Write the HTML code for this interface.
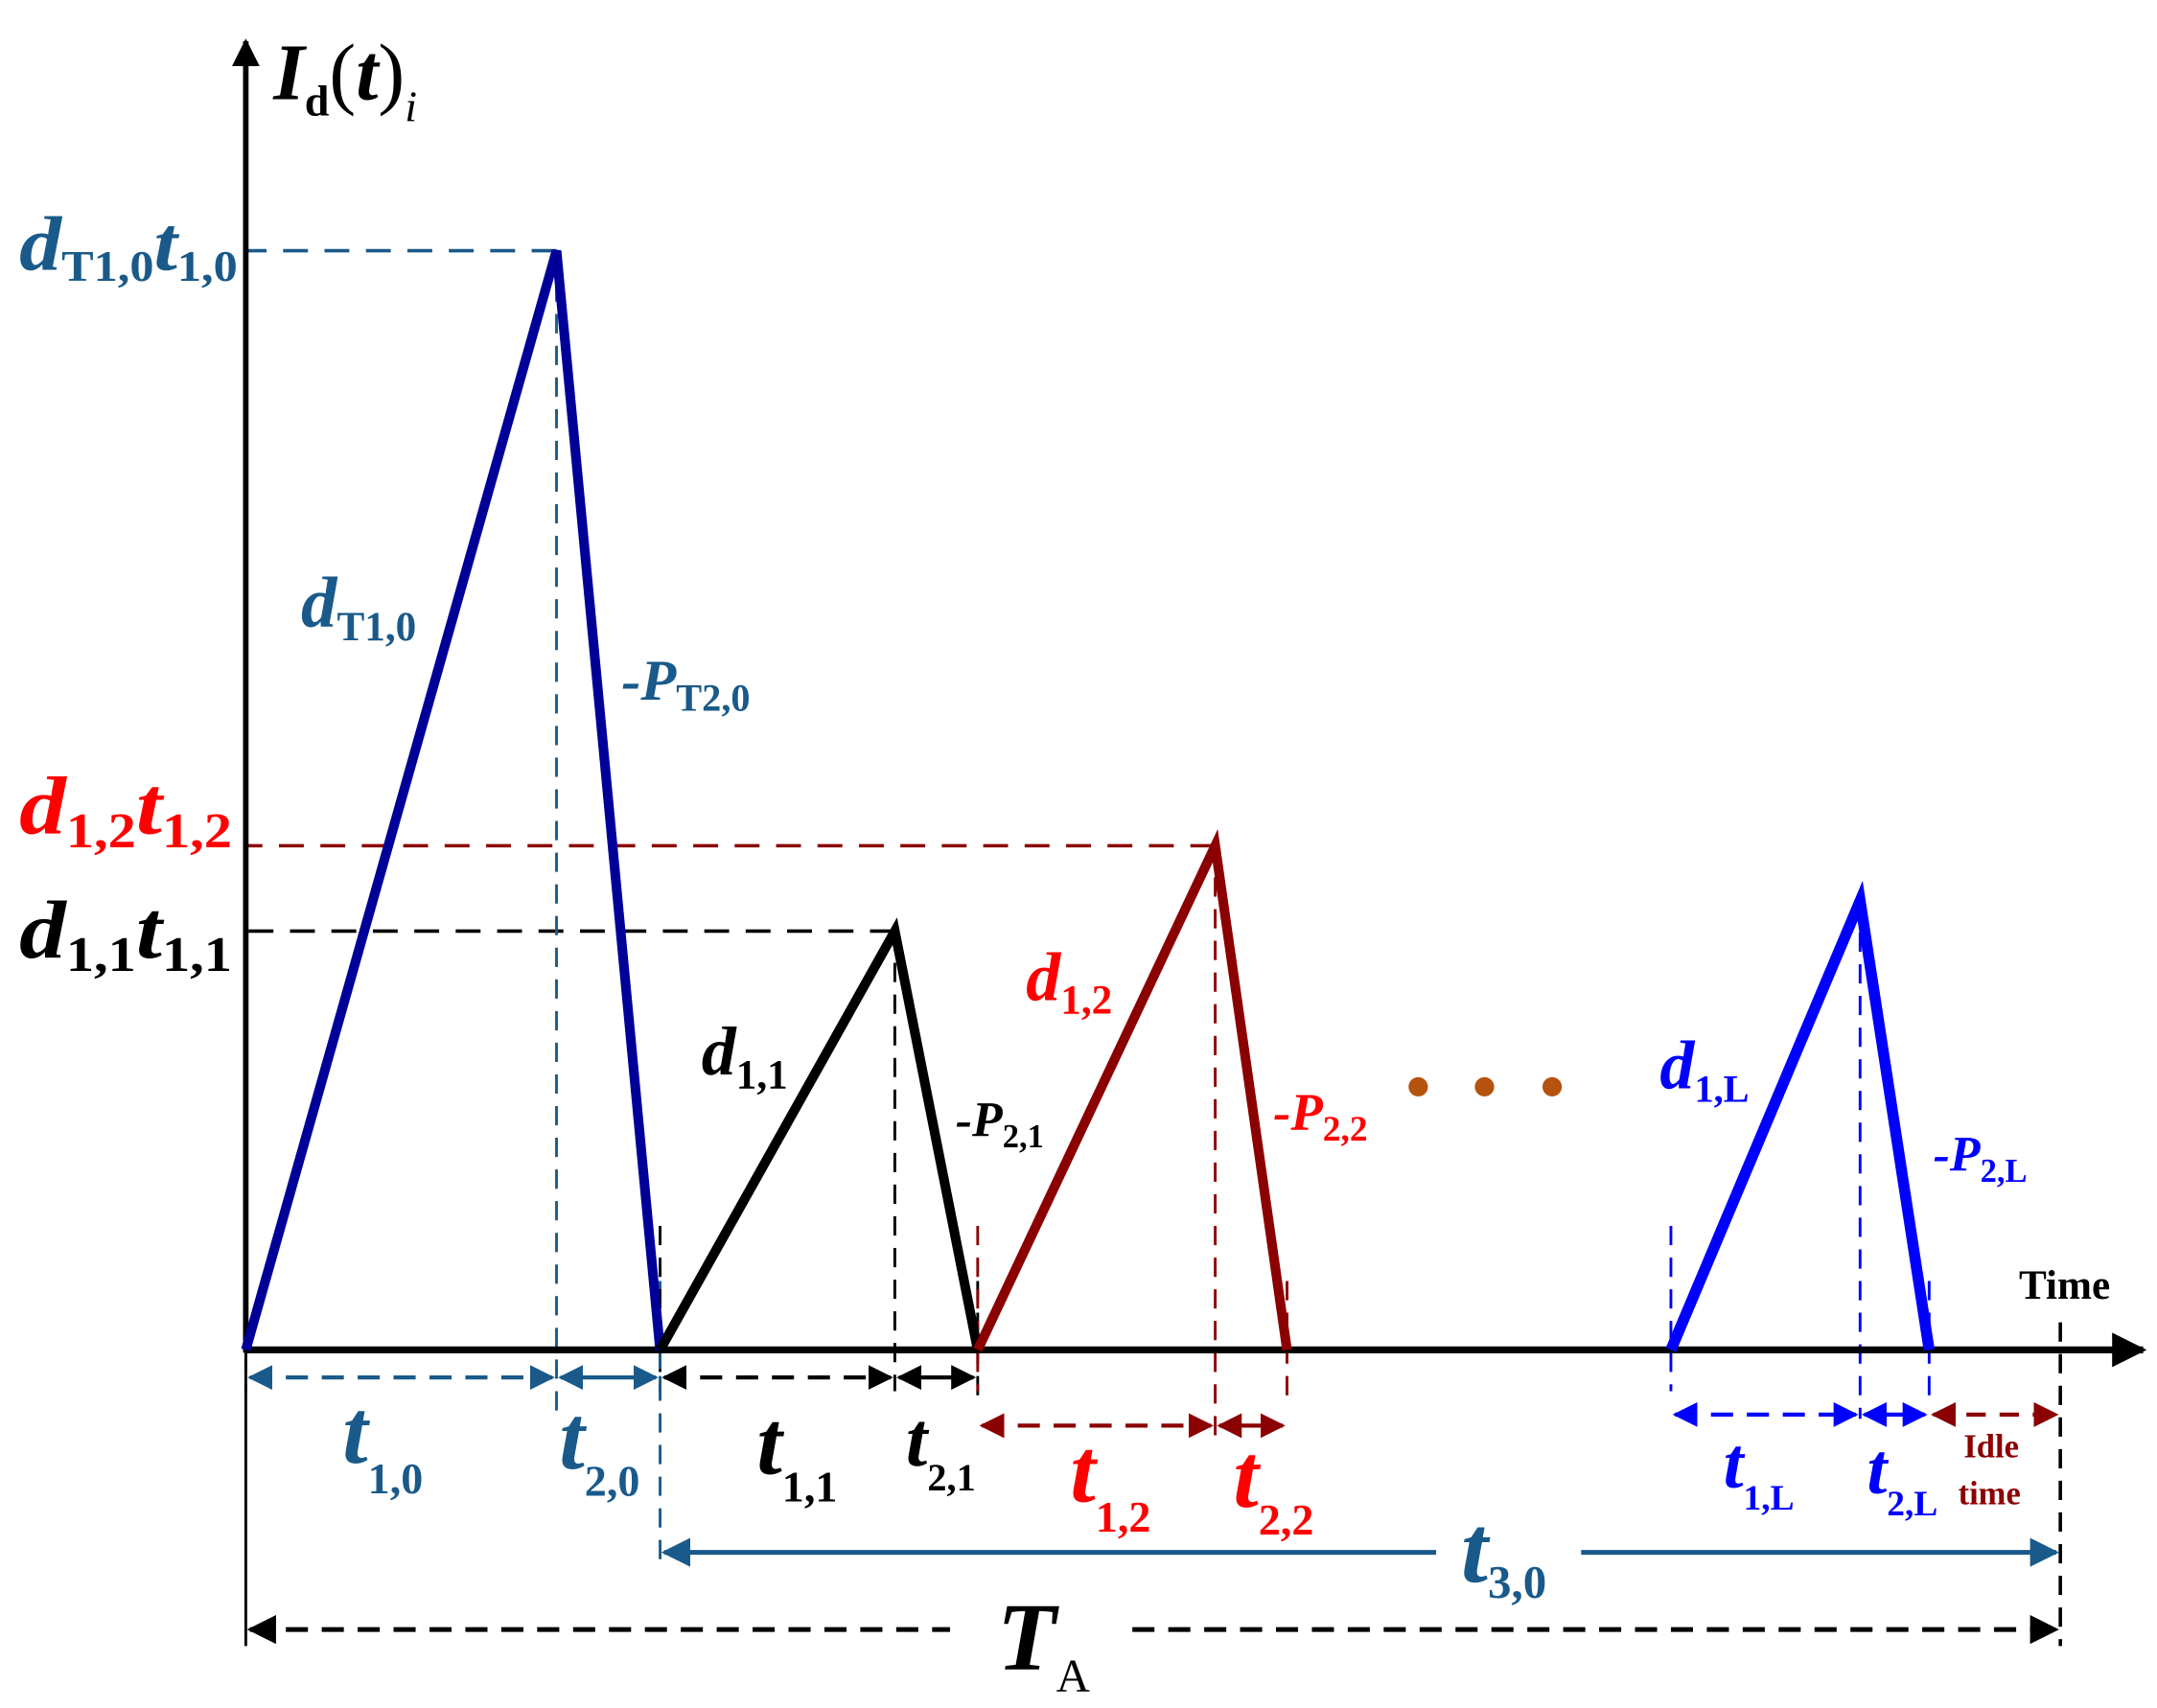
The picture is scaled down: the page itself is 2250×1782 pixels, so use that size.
<!DOCTYPE html>
<html><head><meta charset="utf-8"><style>
html,body{margin:0;padding:0;background:#fff}
svg{display:block}
text{font-family:"Liberation Serif",serif;font-weight:bold}
.it{font-style:italic}
</style></head><body>
<svg width="2250" height="1782" viewBox="0 0 1562 1240" preserveAspectRatio="none" xmlns="http://www.w3.org/2000/svg">
<defs>
<marker id="ah" viewBox="0 0 10 10" refX="9" refY="5" markerWidth="6" markerHeight="6" orient="auto-start-reverse"><path d="M0,0 L10,5 L0,10 z" fill="context-stroke"/></marker>
<marker id="big" viewBox="0 0 10 10" refX="9" refY="5" markerWidth="5" markerHeight="5" orient="auto"><path d="M0,0 L10,5 L0,10 z" fill="#000"/></marker>
</defs>
<g id="plot"></g>
<g>
<text x="198" y="72" font-size="58"><tspan class="it">I</tspan><tspan font-size="32" dy="12">d</tspan><tspan dy="-12" font-weight="normal">(</tspan><tspan class="it">t</tspan><tspan font-weight="normal">)</tspan><tspan class="it" font-size="32" dy="16" font-weight="normal">i</tspan></text>
<text x="14" y="196" font-size="56" fill="#1a5a8a" textLength="158" lengthAdjust="spacingAndGlyphs"><tspan class="it">d</tspan><tspan font-size="32" dy="8">T1,0</tspan><tspan class="it" dy="-8">t</tspan><tspan font-size="32" dy="8">1,0</tspan></text>
<text x="14" y="605" font-size="60" fill="#ff0000" textLength="154" lengthAdjust="spacingAndGlyphs"><tspan class="it">d</tspan><tspan font-size="36" dy="10">1,2</tspan><tspan class="it" dy="-10">t</tspan><tspan font-size="36" dy="10">1,2</tspan></text>
<text x="14" y="695" font-size="60" fill="#000" textLength="154" lengthAdjust="spacingAndGlyphs"><tspan class="it">d</tspan><tspan font-size="36" dy="10">1,1</tspan><tspan class="it" dy="-10">t</tspan><tspan font-size="36" dy="10">1,1</tspan></text>
<text x="218" y="455" font-size="52" fill="#1a5a8a"><tspan class="it">d</tspan><tspan font-size="30" dy="10">T1,0</tspan></text>
<text x="450" y="508" font-size="42" fill="#1a5a8a"><tspan class="it">-P</tspan><tspan font-size="28" dy="8">T2,0</tspan></text>
<text x="508" y="780" font-size="50" fill="#000"><tspan class="it">d</tspan><tspan font-size="30" dy="10">1,1</tspan></text>
<text x="692" y="825" font-size="36" fill="#000"><tspan class="it">-P</tspan><tspan font-size="24" dy="8">2,1</tspan></text>
<text x="743" y="726" font-size="50" fill="#ff0000"><tspan class="it">d</tspan><tspan font-size="30" dy="10">1,2</tspan></text>
<text x="922" y="820" font-size="38" fill="#ff0000"><tspan class="it">-P</tspan><tspan font-size="26" dy="8">2,2</tspan></text>
<text x="1202" y="790" font-size="50" fill="#0000ff"><tspan class="it">d</tspan><tspan font-size="28" dy="10">1,L</tspan></text>
<text x="1400" y="850" font-size="36" fill="#0000ff"><tspan class="it">-P</tspan><tspan font-size="24" dy="8">2,L</tspan></text>
<text x="1462" y="943" font-size="30" fill="#000">Time</text>
<text x="248" y="1062" font-size="66" fill="#1a5a8a"><tspan class="it">t</tspan><tspan font-size="32" dy="22">1,0</tspan></text>
<text x="405" y="1066" font-size="66" fill="#1a5a8a"><tspan class="it">t</tspan><tspan font-size="32" dy="20">2,0</tspan></text>
<text x="548" y="1070" font-size="66" fill="#000"><tspan class="it">t</tspan><tspan font-size="32" dy="20">1,1</tspan></text>
<text x="656" y="1064" font-size="56" fill="#000"><tspan class="it">t</tspan><tspan font-size="28" dy="18">2,1</tspan></text>
<text x="775" y="1090" font-size="66" fill="#ff0000"><tspan class="it">t</tspan><tspan font-size="32" dy="22">1,2</tspan></text>
<text x="893" y="1094" font-size="66" fill="#ff0000"><tspan class="it">t</tspan><tspan font-size="32" dy="20">2,2</tspan></text>
<text x="1248" y="1080" font-size="52" fill="#0000ff"><tspan class="it">t</tspan><tspan font-size="26" dy="16">1,L</tspan></text>
<text x="1352" y="1084" font-size="52" fill="#0000ff"><tspan class="it">t</tspan><tspan font-size="26" dy="16">2,L</tspan></text>
<text x="1422" y="1058" font-size="24" fill="#8b0000">Idle</text>
<text x="1418" y="1092" font-size="24" fill="#8b0000">time</text>
<text x="1058" y="1148" font-size="70" fill="#1a5a8a"><tspan class="it">t</tspan><tspan font-size="34" dy="12">3,0</tspan></text>
<text x="722" y="1212" font-size="70" fill="#000"><tspan class="it">T</tspan><tspan font-size="34" font-weight="normal" dy="16">A</tspan></text>
</g>
</svg>
<script>
// Pulse data (time units along x, current units along y)
const pulseNames = ["p0","p1","p2","pL"];
const pulseStart = [0, 300, 530, 1032];
const pulsePeak  = [225, 470, 702, 1169];
const pulseEnd   = [300, 530, 754, 1219];
const pulseHeight= [798, 304, 366, 326];
const pulseColors= ["#000099","#000000","#8b0000","#0000ff"];
const guideColors= ["#1a5a8a","#000000","#8b0000","#0000ff"];
const idleEnd = 1314;
const dotTimes = [849, 897, 946];
const dotLevel = 191;

const X0 = 178, Y0 = 980;
const xs = t => X0 + t;
const ys = v => Y0 - v;
const NS = "http://www.w3.org/2000/svg";
const g = document.getElementById("plot");
function mk(tag, attrs, name){
  const e = document.createElementNS(NS, tag);
  for (const k in attrs) e.setAttribute(k, attrs[k]);
  
  
  g.appendChild(e); return e;
}
function line(x1,y1,x2,y2,stroke,w,dash,name,m1,m2){
  const a={x1,y1,x2,y2,stroke,"stroke-width":w};
  if(dash) a["stroke-dasharray"]=dash;
  if(m1) a["marker-start"]="url(#ah)";
  if(m2) a["marker-end"]="url(#ah)";
  return mk("line",a,name);
}
line(xs(pulsePeak[0]),ys(pulseHeight[0]),X0,ys(pulseHeight[0]),guideColors[0],2.5,"18 12","guide-h-p0");
line(xs(pulsePeak[2]),ys(pulseHeight[2]),X0,ys(pulseHeight[2]),guideColors[2],2.5,"18 12","guide-h-p2");
line(xs(pulsePeak[1]),ys(pulseHeight[1]),X0,ys(pulseHeight[1]),guideColors[1],2.5,"18 12","guide-h-p1");
const vEnd=[1030,1010,1045,1030];
for(let i=0;i<pulseNames.length;i++){
  line(xs(pulsePeak[i]),ys(pulseHeight[i]),xs(pulsePeak[i]),vEnd[i],guideColors[i],2,"14 9","guide-v-peak-"+pulseNames[i]);
  line(xs(pulseStart[i]),Y0-90,xs(pulseStart[i]),Y0+30,guideColors[i],2,"14 9","guide-v-start-"+pulseNames[i]);
  line(xs(pulseEnd[i]),Y0-50,xs(pulseEnd[i]),Y0+40,guideColors[i],2,"14 9","guide-v-end-"+pulseNames[i]);
}
line(X0,Y0,X0,1195,"#000",2,null,"y-axis-extension");
line(xs(pulseStart[1]),Y0,xs(pulseStart[1]),1135,"#1a5a8a",2,"14 9","guide-t30-start");
line(xs(idleEnd),960,xs(idleEnd),1195,"#000",2.5,"14 9","guide-TA-end");
mk("line",{x1:X0,y1:Y0+2,x2:X0,y2:30,stroke:"#000","stroke-width":4,"marker-end":"url(#big)"},"y-axis");
mk("line",{x1:X0,y1:Y0,x2:1552,y2:Y0,stroke:"#000","stroke-width":5,"marker-end":"url(#big)"},"x-axis");
for(let i=0;i<pulseNames.length;i++){
  const pts=[xs(pulseStart[i])+","+ys(0), xs(pulsePeak[i])+","+ys(pulseHeight[i]), xs(pulseEnd[i])+","+ys(0)].join(" ");
  mk("polyline",{points:pts,fill:"none",stroke:pulseColors[i],"stroke-width":i==3?8:7,"stroke-linejoin":"miter"},"pulse-"+pulseNames[i]);
}
dotTimes.forEach((t,k)=>{ mk("circle",{cx:xs(t),cy:ys(dotLevel),r:7,fill:"#b5520e"},"ellipsis-dot-"+k); });
const rowY=[1000,1000,1035,1027];
for(let i=0;i<pulseNames.length;i++){
  const c=guideColors[i], w=3;
  line(xs(pulseStart[i])+3,rowY[i],xs(pulsePeak[i])-3,rowY[i],c,w,"16 10","dim-t1-"+pulseNames[i],true,true);
  line(xs(pulsePeak[i])+3,rowY[i],xs(pulseEnd[i])-3,rowY[i],c,w,null,"dim-t2-"+pulseNames[i],true,true);
}
line(xs(pulseEnd[3])+3,1027,xs(idleEnd)-3,1027,"#8b0000",3,"14 10","dim-idle",true,true);
line(xs(pulseStart[1])+3,1127,1040,1127,"#1a5a8a",3.5,null,"dim-t30-left",true,false);
line(1145,1127,xs(idleEnd)-3,1127,"#1a5a8a",3.5,null,"dim-t30-right",false,true);
line(X0+3,1183,688,1183,"#000",3.5,"16 10","dim-TA-left",true,false);
line(820,1183,xs(idleEnd)-3,1183,"#000",3.5,"16 10","dim-TA-right",false,true);
</script>
</body></html>
